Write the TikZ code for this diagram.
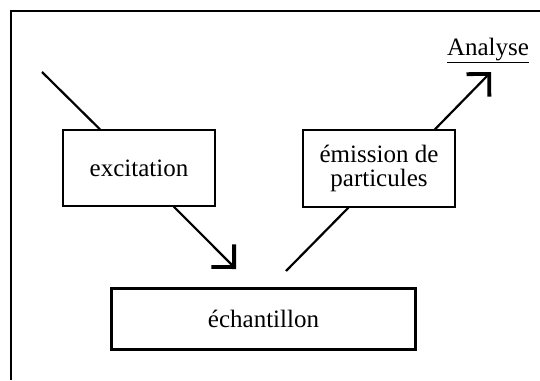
\documentclass[tikz,border=0pt]{standalone}
\usepackage{fontspec}
\setmainfont{Liberation Serif}
\usetikzlibrary{arrows.meta}
\begin{document}
\begin{tikzpicture}[x=1pt,y=-1pt,
  every node/.style={font=\fontsize{25}{25}\selectfont},
  box/.style={draw,line width=1.3pt,minimum width=152pt,minimum height=76pt,inner sep=0pt,align=center},
  bigbox/.style={draw,line width=3pt,minimum width=304pt,minimum height=61pt,inner sep=0pt},
  conn/.style={line width=2.2pt},
  arr/.style={line width=2.2pt,-{Straight Barb[length=16pt,width=32pt,line width=3.8pt,sharp]}}
]
\useasboundingbox (0,0) rectangle (540,380);
\draw[line width=2.2pt] (11,380) -- (11,11) -- (540,11);
\node[box] (exc) at (139,168) {excitation};
\node[box,minimum height=77pt] (em) at (379,168.5) {émission de\\[-1pt]particules};
\node[bigbox] (ech) at (263.5,319) {échantillon};
\node[inner sep=0pt,anchor=base] (ana) at (488,55) {\underline{Analyse}};
\coordinate (src) at (42,72);
\coordinate (tipA) at (236,269);
\coordinate (srcB) at (286,271);
\coordinate (tipB) at (491,72);
\draw[conn] (src) -- (exc);
\draw[arr] (exc.-48) -- (tipA);
\draw[conn] (srcB) -- (em.-128);
\draw[arr] (em.35.5) -- (tipB);
\end{tikzpicture}
\end{document}
